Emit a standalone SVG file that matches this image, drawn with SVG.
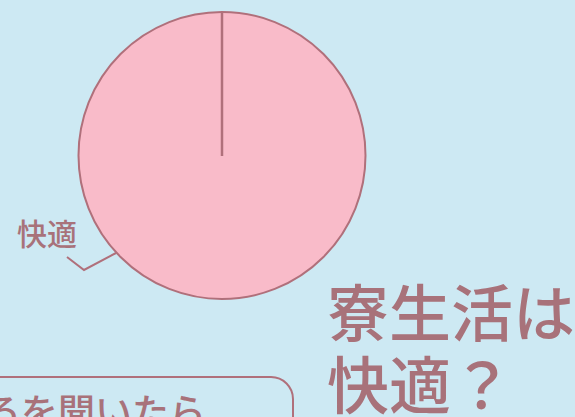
<svg xmlns="http://www.w3.org/2000/svg" width="575" height="417" viewBox="0 0 575 417">
<style>
.ink{fill:#a8727a;font-family:"Noto Sans CJK JP","Noto Sans",sans-serif;font-weight:500}
.ln{fill:none;stroke:#b0707b;stroke-width:2}
</style>
<rect width="575" height="417" fill="#cde9f3"/>
<g id="pie">
<circle cx="222" cy="155.5" r="143.5" fill="#f9bbc9" stroke="#b0707b" stroke-width="2"/>
<line x1="222" y1="12" x2="222" y2="156" stroke="#b0707b" stroke-width="2.5"/>
</g>
<g id="connectors">
<polyline class="ln" points="67,257 84,270 116,253"/>
</g>
<g id="label">
<text class="ink" x="17" y="245" font-size="30">快適</text>
</g>
<g id="title">
<text class="ink" x="327" y="337" font-size="62">寮生活は</text>
<text class="ink" x="327" y="409" font-size="62">快適？</text>
</g>
<g id="box">
<rect x="-40" y="377" width="333" height="80" rx="22" class="ln" stroke-width="2.5"/>
<text class="ink" x="206" y="426" font-size="37" text-anchor="end">ろを聞いたら</text>
</g>
</svg>
